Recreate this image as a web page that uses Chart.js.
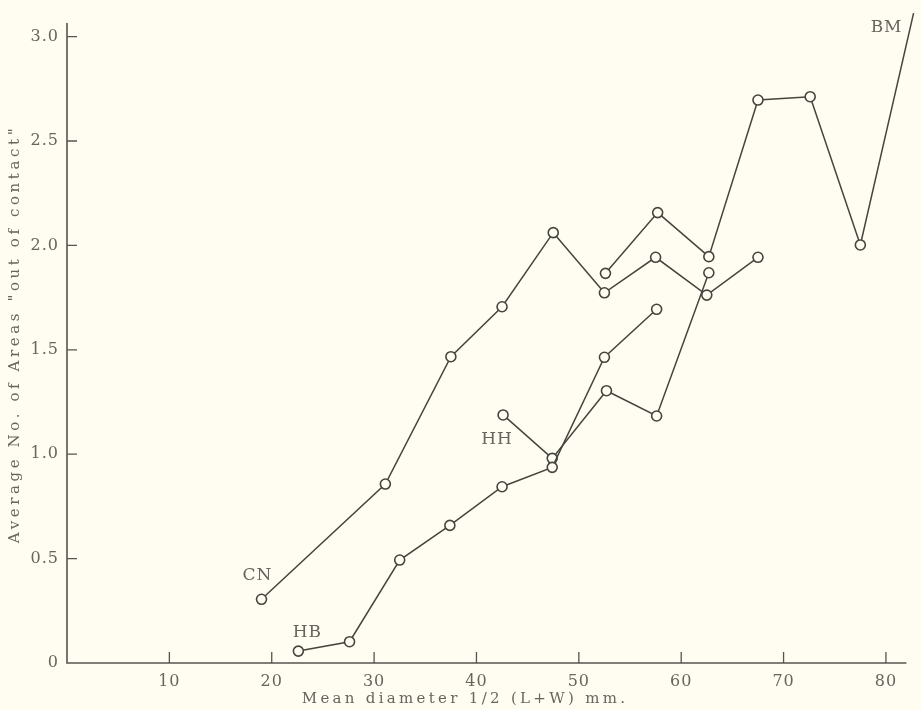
<!DOCTYPE html>
<html>
<head>
<meta charset="utf-8">
<script src="https://cdn.jsdelivr.net/npm/chart.js@4.4.1/dist/chart.umd.min.js"></script>
<style>
  html, body { margin: 0; padding: 0; background: #fffdf1; }
  #wrap { width: 921px; height: 710px; position: relative; }
</style>
</head>
<body>
<div id="wrap"><canvas id="chart"></canvas></div>
<script>
// Values
const cnX = [19, 31.1, 37.5, 42.5, 47.5, 52.5, 57.5, 62.5, 67.5];
const cnY = [0.305, 0.857, 1.467, 1.706, 2.061, 1.773, 1.943, 1.762, 1.943];
const hbX = [22.6, 27.6, 32.5, 37.4, 42.5, 47.4, 52.5, 57.6];
const hbY = [0.057, 0.102, 0.493, 0.659, 0.844, 0.937, 1.464, 1.694];
const hhX = [42.6, 47.4, 52.7, 57.6, 62.7];
const hhY = [1.188, 0.98, 1.304, 1.183, 1.869];
const bmX = [52.6, 57.7, 62.7, 67.5, 72.6, 77.5, 82.7];
const bmY = [1.866, 2.157, 1.946, 2.696, 2.712, 2.002, 3.112];

const xTicks = [10, 20, 30, 40, 50, 60, 70, 80];
const yTicks = [0, 0.5, 1.0, 1.5, 2.0, 2.5, 3.0];

const xTitle = 'Mean diameter 1/2 (L+W) mm.';
const yTitle = 'Average No. of Areas "out of contact"';

const bg = '#fffdf1';
const ink = '#45453f';
const textGrey = '#66665f';
const serif = '"DejaVu Serif", "Liberation Serif", serif';

function pts(xs, ys) {
    return xs.map((x, i) => ({ x: x, y: ys[i] }));
}

function series(label, xs, ys) {
    return {
        label: label,
        data: pts(xs, ys),
        showLine: true,
        borderColor: ink,
        borderWidth: 1.5,
        pointRadius: 5,
        pointBorderWidth: 1.6,
        pointBorderColor: ink,
        pointBackgroundColor: bg,
        backgroundColor: bg,
        clip: false
    };
}

// series names drawn next to one of their points
const nameTags = [
    { ds: 0, idx: 0, dx: -4, dy: -24 },
    { ds: 1, idx: 0, dx: 9, dy: -19 },
    { ds: 2, idx: 0, dx: -6, dy: 25 },
    { ds: 3, idx: 6, dx: -27, dy: 14 }
];

const decor = {
    id: 'decor',
    beforeDraw(chart) {
        const ctx = chart.ctx;
        ctx.fillStyle = bg;
        ctx.fillRect(0, 0, chart.width, chart.height);
        // slight tracking for the tick labels drawn by the scales
        ctx.letterSpacing = '1px';
    },
    afterDatasetsDraw(chart) {
        const ctx = chart.ctx;
        const xs = chart.scales.x, ys = chart.scales.y;
        const x0 = xs.getPixelForValue(0), y0 = ys.getPixelForValue(0);
        ctx.save();
        // axes
        ctx.strokeStyle = '#55554f';
        ctx.lineWidth = 1.6;
        ctx.beginPath();
        ctx.moveTo(x0, chart.chartArea.top);
        ctx.lineTo(x0, y0);
        ctx.lineTo(xs.getPixelForValue(82), y0);
        ctx.stroke();
        // inward tick marks
        ctx.lineWidth = 1.3;
        ctx.beginPath();
        xTicks.forEach(v => {
            const p = xs.getPixelForValue(v);
            ctx.moveTo(p, y0);
            ctx.lineTo(p, y0 - 11);
        });
        yTicks.forEach(v => {
            if (v === 0) return;
            const p = ys.getPixelForValue(v);
            ctx.moveTo(x0, p);
            ctx.lineTo(x0 + 10, p);
        });
        ctx.stroke();

        // axis titles
        ctx.fillStyle = textGrey;
        ctx.font = '15px ' + serif;
        ctx.textAlign = 'center';
        ctx.textBaseline = 'middle';
        ctx.letterSpacing = '3.3px';
        ctx.fillText(xTitle, 465, 699);
        ctx.save();
        ctx.letterSpacing = '3.6px';
        ctx.translate(15, 334);
        ctx.rotate(-Math.PI / 2);
        ctx.fillText(yTitle, 0, 0);
        ctx.restore();

        // series names
        ctx.letterSpacing = '1px';
        ctx.font = '17px ' + serif;
        nameTags.forEach(t => {
            const el = chart.getDatasetMeta(t.ds).data[t.idx];
            ctx.fillText(chart.data.datasets[t.ds].label, el.x + t.dx, el.y + t.dy);
        });
        ctx.restore();
    }
};

new Chart(document.getElementById('chart'), {
    type: 'scatter',
    data: {
        datasets: [
            series('CN', cnX, cnY),
            series('HB', hbX, hbY),
            series('HH', hhX, hhY),
            series('BM', bmX, bmY)
        ]
    },
    options: {
        responsive: true,
        maintainAspectRatio: false,
        animation: false,
        layout: {
            padding: { left: 0, right: 0, top: 23, bottom: 0 }
        },
        scales: {
            x: {
                type: 'linear',
                min: 0,
                max: 82.78,
                afterBuildTicks: scale => { scale.ticks = xTicks.map(v => ({ value: v })); },
                afterFit: scale => { scale.height = 47; },
                grid: { display: false, drawTicks: false },
                border: { display: false },
                ticks: {
                    color: textGrey,
                    padding: 9,
                    font: { family: serif, size: 16 }
                }
            },
            y: {
                type: 'linear',
                min: 0,
                max: 3.065,
                afterBuildTicks: scale => { scale.ticks = yTicks.map(v => ({ value: v })); },
                afterFit: scale => { scale.width = 67; },
                grid: { display: false, drawTicks: false },
                border: { display: false },
                ticks: {
                    color: textGrey,
                    padding: 8,
                    font: { family: serif, size: 16 },
                    callback: v => v === 0 ? '0' : v.toFixed(1)
                }
            }
        },
        plugins: {
            legend: { display: false },
            tooltip: { enabled: false }
        }
    },
    plugins: [decor]
});
</script>
</body>
</html>
